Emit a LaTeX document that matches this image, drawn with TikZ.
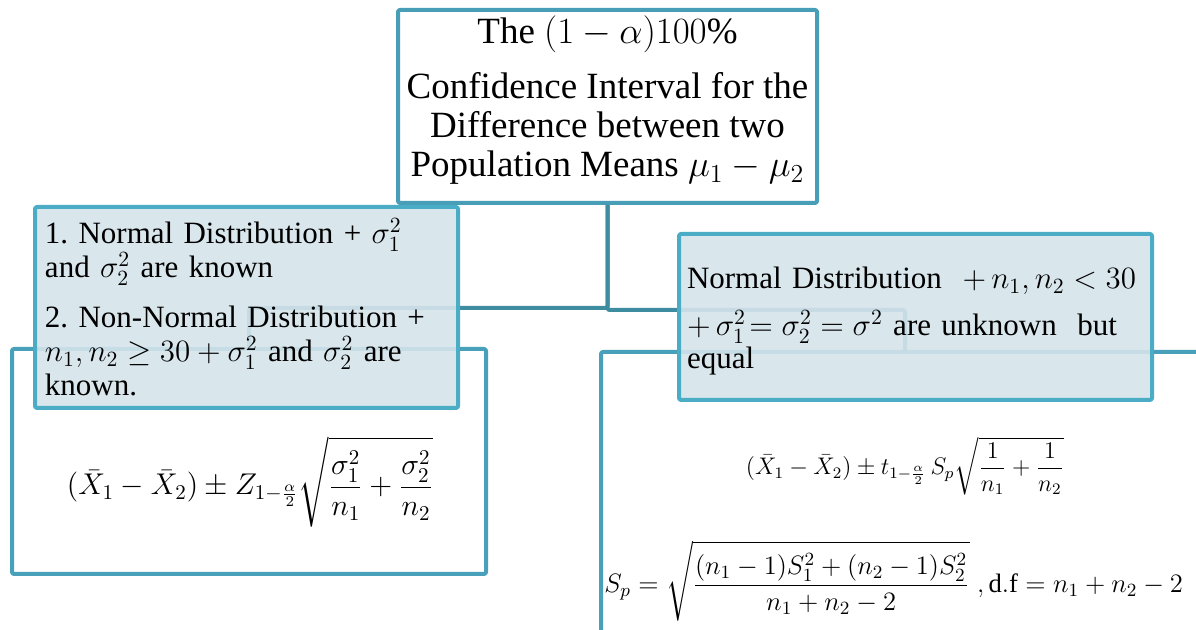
\RequirePackage{fix-cm}
\documentclass[tikz,border=0pt]{standalone}
\usepackage{amsmath,amssymb}
\usepackage{fontspec}
\setmainfont{Liberation Serif}
\usepackage{tikz}
\usetikzlibrary{calc}
\usepackage{xcolor}
\definecolor{headedge}{RGB}{72,158,183}
\definecolor{caseedge}{RGB}{75,172,198}
\definecolor{casefill}{RGB}{213,228,235}
\definecolor{calcedge}{RGB}{72,160,186}
\definecolor{linkteal}{RGB}{62,140,160}

\begin{document}
\begin{tikzpicture}[x=0.5pt,y=-0.5pt,line join=round,
    headbox/.style={draw=headedge,line width=2pt,fill=white,rounded corners=1pt,align=center,inner sep=0pt},
    casebox/.style={draw=caseedge,line width=2pt,fill=casefill,fill opacity=0.9,text opacity=1,rounded corners=1pt,align=left,inner ysep=2pt},
    calcbox/.style={draw=calcedge,line width=2pt,rounded corners=1pt},
    link/.style={draw=linkteal,line width=2pt,rounded corners=1pt}]
  \useasboundingbox (0,0) rectangle (1196,630);
  \clip (0,0) rectangle (1196,630);
  % lower boxes
  \node[calcbox,minimum width=237pt,minimum height=112.5pt] (leftcalc) at (249,461.5) {};
  \node[calcbox,minimum width=324.5pt,minimum height=174pt] (rightcalc) at (925.5,526) {};
  % title
  \node[headbox,minimum width=209.5pt,minimum height=96.5pt,
        font=\fontsize{18.5}{19.5}\selectfont] (head) at (607.5,106.5)
    {The $(1-\alpha)100\%$\\[8pt] Confidence Interval for the\\ Difference between two\\ Population Means $\mu_1-\mu_2$\rule[-10pt]{0pt}{10pt}};
  % links
  \coordinate (rdrop) at (905,352);
  \draw[link] (head.south) -- ++(0,103) -| (leftcalc.north);
  \draw[link] (head.south) -- ++(0,105) -| (rdrop);
  % cases
  \node[casebox,minimum width=211.5pt,minimum height=100.5pt,inner xsep=5pt,text width=201.5pt,
        font=\fontsize{15.5}{17}\selectfont] (leftcase) at (246.5,307.5)
    {1.\ Normal Distribution + $\sigma_1^2$\\ and $\sigma_2^2$ are known\\[8pt]
     2.\ Non-Normal Distribution +\\ $n_1,n_2\geq 30+\sigma_1^2$ and $\sigma_2^2$ are\\ known.};
  \node[casebox,minimum width=236.5pt,minimum height=83pt,inner xsep=4pt,text width=228.5pt,
        font=\fontsize{15.5}{16.5}\selectfont] (rightcase) at (915.5,317)
    {\rule{0pt}{15pt}Normal Distribution\ \ $+\,n_1,n_2<30$\\[7pt] $+\,\sigma_1^2\!=\sigma_2^2=\sigma^2$ are unknown\ \ but\\ equal};
  % formulas
  \node[font=\fontsize{15}{18}\selectfont] (zform) at (250,482)
    {$\displaystyle(\bar{X}_1-\bar{X}_2)\pm Z_{1-\frac{\alpha}{2}}\sqrt{\frac{\sigma_1^2}{n_1}+\frac{\sigma_2^2}{n_2}}$};
  \node[font=\fontsize{12}{14}\selectfont] (tform) at (905,466)
    {$\displaystyle(\bar{X}_1-\bar{X}_2)\pm t_{1-\frac{\alpha}{2}}\,S_p\sqrt{\frac{1}{n_1}+\frac{1}{n_2}}$};
  \node[font=\fontsize{13.3}{16}\selectfont,anchor=west,inner sep=0pt] (spform) at (604,581)
    {$\displaystyle S_p=\sqrt{\frac{(n_1-1)S_1^2+(n_2-1)S_2^2}{n_1+n_2-2}}\;,\mathrm{d.f}=n_1+n_2-2$};
\end{tikzpicture}
\end{document}
